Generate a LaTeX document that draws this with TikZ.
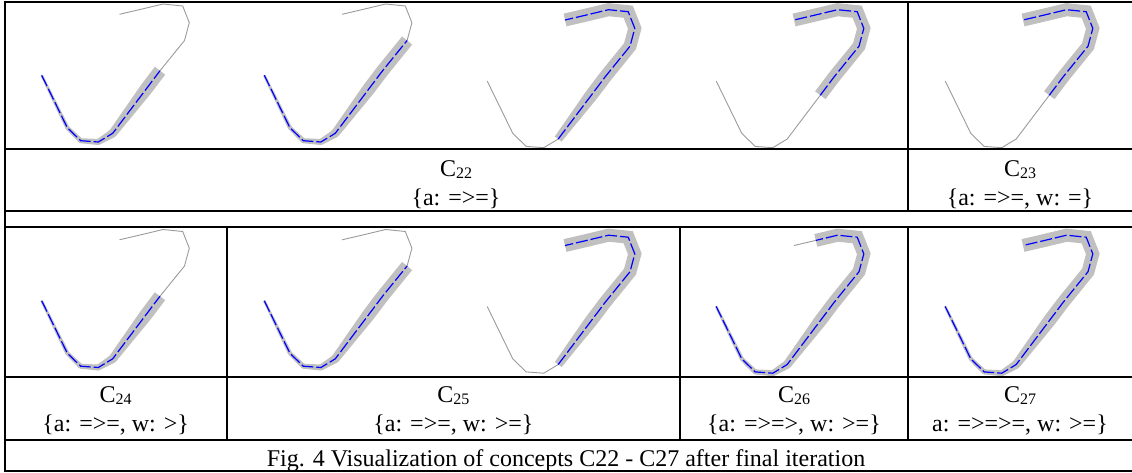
\documentclass[tikz,border=0pt]{standalone}
\usepackage{fontspec}
\setmainfont{Liberation Serif}
\usetikzlibrary{calc}
\definecolor{bandc}{HTML}{C0C0C0}
\definecolor{thinc}{HTML}{9A9A9A}
\newcommand{\lowidx}[1]{\raisebox{-2.5pt}{\fontsize{16}{16}\selectfont #1}}
\def\ptlist{0/41.7/75.3, 1/67.3/127.7, 2/80.7/140.7, 3/98.3/142, 4/112.7/133.3, 5/145.8/89.5, 6/160/70.7, 7/184.5/40.5, 8/189.3/22.7, 9/182.7/6, 10/163/4, 11/141.3/9.2, 12/119.5/14.3}
\def\wlist{{2.5,4,5,6,8.5,13,13,13,13,13,13,13,13}}
\newcommand{\drawcurve}[5]{%
  \begin{scope}[shift={(#2,#3)}]
    \foreach \i/\x/\y in \ptlist {\coordinate (#1-\i) at (\x,\y);}
  \end{scope}
  \draw[thinline] (#1-0) \foreach \i in {1,...,12}{ -- (#1-\i)};
  \ifnum#4<5
    \foreach \i in {#4,...,4}{%
      \pgfmathtruncatemacro\j{\i+1}%
      \pgfmathsetmacro\ha{\wlist[\i]/2}%
      \pgfmathsetmacro\hb{\wlist[\j]/2}%
      \fill[bandc] ($(#1-\i)!\ha pt!90:(#1-\j)$) -- ($(#1-\j)!\hb pt!-90:(#1-\i)$) -- ($(#1-\j)!\hb pt!90:(#1-\i)$) -- ($(#1-\i)!\ha pt!-90:(#1-\j)$) -- cycle;
      \ifnum\i>#4 \fill[bandc] (#1-\i) circle[radius=\ha pt];\fi
    }%
    \def\bandstart{5}%
  \else
    \def\bandstart{#4}%
  \fi
  \pgfmathtruncatemacro\bandnext{\bandstart+1}%
  \draw[bandline] (#1-\bandstart) \foreach \i in {\bandnext,...,#5}{ -- (#1-\i)};
  \pgfmathtruncatemacro\bluenext{#4+1}%
  \draw[blueline] (#1-#4) \foreach \i in {\bluenext,...,#5}{ -- (#1-\i)};
}
\begin{document}
\begin{tikzpicture}[x=1pt,y=-1pt,
  rule/.style={line width=2pt,black},
  thinline/.style={thinc,line width=0.9pt,line join=miter},
  bandline/.style={bandc,line width=13pt,line join=miter,line cap=butt},
  blueline/.style={blue,line width=1.2pt,dash pattern=on 12pt off 3pt},
  txt/.style={anchor=base,inner sep=0pt,font=\fontsize{24}{29}\selectfont}]
\useasboundingbox (0,0) rectangle (1132,472);
% curves, top row
\drawcurve{pa}{0}{0}{0}{6}
\drawcurve{pb}{222.6}{0}{0}{7}
\drawcurve{pc}{445.5}{5.7}{4}{12}
\drawcurve{pd}{674.5}{5.7}{5}{12}
\drawcurve{pe}{903.5}{5.7}{5}{12}
% curves, bottom row
\drawcurve{pf}{0}{225.5}{0}{6}
\drawcurve{pg}{222.6}{225.5}{0}{7}
\drawcurve{ph}{445.5}{231.2}{4}{12}
\drawcurve{pi}{674.5}{231.2}{0}{11}
\drawcurve{pj}{903.5}{231.2}{0}{12}
% table rules
\draw[rule] (4.7,0.7) -- (4.7,471.3);
\foreach \yy in {1.7,149.4,211,226.7,377.3,440,470.6} {\draw[rule] (3.7,\yy) -- (1132,\yy);}
\draw[rule] (908,1.7) -- (908,211);
\foreach \xx in {226.7,680,908} {\draw[rule] (\xx,226.7) -- (\xx,440);}
% texts
\node[txt] (c22a) at (456,176) {C\lowidx{22}};
\node[txt] (c22b) at (456,205.5) {\{a: =>=\}};
\node[txt] (c23a) at (1020,176) {C\lowidx{23}};
\node[txt] (c23b) at (1020,205.5) {\{a: =>=, w: =\}};
\node[txt] (c24a) at (115.7,402.3) {C\lowidx{24}};
\node[txt] (c24b) at (115.7,431) {\{a: =>=, w: >\}};
\node[txt] (c25a) at (453.4,402.3) {C\lowidx{25}};
\node[txt] (c25b) at (453.4,431) {\{a: =>=, w: >=\}};
\node[txt] (c26a) at (794,402.3) {C\lowidx{26}};
\node[txt] (c26b) at (794,431) {\{a: =>=>, w: >=\}};
\node[txt] (c27a) at (1020,402.3) {C\lowidx{27}};
\node[txt] (c27b) at (1020,431) {a: =>=>=, w: >=\}};
\node[txt] (cap) at (566,466.5) {Fig. 4 Visualization of concepts C22 - C27 after final iteration};
\end{tikzpicture}
\end{document}
